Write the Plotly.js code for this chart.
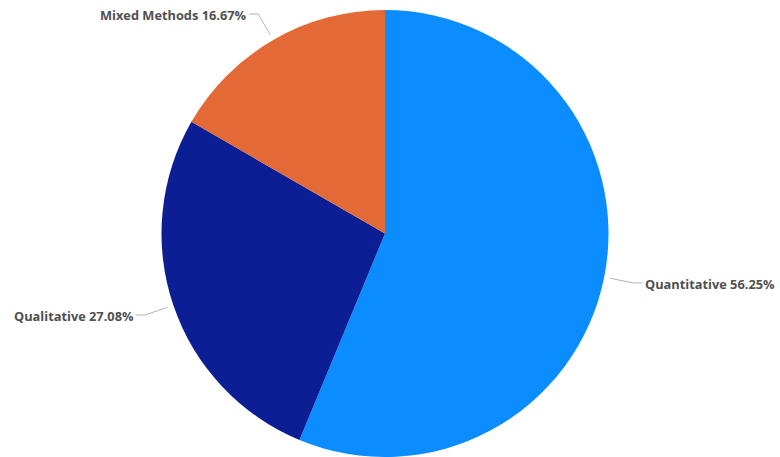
<!DOCTYPE html>
<html><head><meta charset="utf-8">
<script src="https://cdn.plot.ly/plotly-3.0.1.min.js"></script>
<style>html,body{margin:0;padding:0;background:#fff}#chart{width:780px;height:457px}</style>
</head><body><div id="chart"></div>
<script>
const categories = ["Quantitative", "Qualitative", "Mixed Methods"];
const percents = [56.25, 27.08, 16.67];
const colors = ["#0B8CFF", "#0B1E93", "#E36A36"];

const W = 780, H = 457;
const M = {l: 0, r: 10, t: 10, b: 0};
const PW = W - M.l - M.r, PH = H - M.t - M.b;
const cx = M.l + PW / 2, cy = M.t + PH / 2;
const R = Math.min(PW, PH) / 2;
const toX = px => (px - M.l) / PW;
const toY = py => 1 - (py - M.t) / PH;

const total = percents.reduce((a, b) => a + b, 0);
const shapes = [], annotations = [];
let cum = 0;
percents.forEach((v, i) => {
  const mid = (cum + v / 2) / total * 2 * Math.PI;
  cum += v;
  const dx = Math.sin(mid), dy = -Math.cos(mid);
  const x0 = cx + dx * (R + 6), y0 = cy + dy * (R + 6);
  const x1 = cx + dx * (R + 30), y1 = cy + dy * (R + 30);
  const side = dx >= 0 ? 1 : -1;
  const x2 = x1 + side * 9;
  const line = {color: "#b3b3b3", width: 1};
  shapes.push({type: "line", xref: "paper", yref: "paper", x0: toX(x0), y0: toY(y0), x1: toX(x1), y1: toY(y1), line});
  shapes.push({type: "line", xref: "paper", yref: "paper", x0: toX(x1), y0: toY(y1), x1: toX(x2), y1: toY(y1), line});
  annotations.push({
    xref: "paper", yref: "paper", x: toX(x2), y: toY(y1 + 1),
    xanchor: side > 0 ? "left" : "right", yanchor: "middle", showarrow: false,
    text: "<b>" + categories[i] + " " + v.toFixed(2) + "%</b>",
    font: {family: "Open Sans", size: 12.8, color: "#505050"}
  });
});

Plotly.newPlot("chart", [{
  type: "pie", labels: categories, values: percents,
  marker: {colors: colors, line: {width: 0}},
  sort: false, direction: "clockwise", rotation: 0,
  textinfo: "none", hoverinfo: "label+percent"
}], {
  width: W, height: H, margin: M, showlegend: false,
  paper_bgcolor: "#fff", plot_bgcolor: "#fff",
  shapes: shapes, annotations: annotations
}, {displayModeBar: false, staticPlot: true});
</script></body></html>
